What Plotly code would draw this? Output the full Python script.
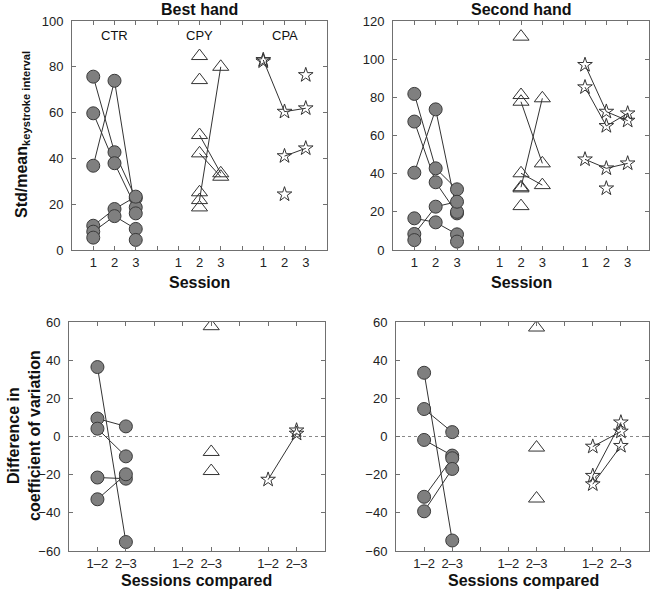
import plotly.graph_objects as go

# ---------------- data ----------------
session_labels = ["1", "2", "3"]
compare_labels = ["1\u20132", "2\u20133"]
groups = ["CTR", "CPY", "CPA"]

# Std/mean (keystroke interval), one list per participant: sessions 1,2,3
best_CTR = [[75.7, 42.7, 22.6], [59.7, 37.9, 18.6], [36.8, 73.9, 16.0],
            [10.6, 17.9, 23.3], [8.0, 14.8, 9.2], [5.4, None, 4.4]]
best_CPY = [[None, 50.2, 33.5], [None, 42.2, 32.0], [None, 21.8, 80.0],
            [None, 84.7, None], [None, 74.2, None], [None, 25.2, None], [None, 18.6, None]]
best_CPA = [[83.0, 60.4, 61.9], [82.4, None, None], [None, 41.0, 44.4],
            [None, None, 76.4], [None, 24.3, None]]

second_CTR = [[81.8, 42.8, 31.8], [67.3, 35.5, 19.2], [40.5, 73.7, 20.0],
              [8.4, 22.7, 25.3], [16.6, 14.5, 8.2], [5.2, None, 4.4]]
second_CPY = [[None, 77.7, 45.4], [None, 32.9, 79.5], [None, 40.2, 34.0],
              [None, 111.8, None], [None, 81.2, None], [None, 23.0, None], [None, 32.3, None]]
second_CPA = [[97.0, 72.5, 67.8], [85.3, 65.0, 71.6], [47.5, 42.8, 45.4], [None, 32.3, None]]

# Difference in coefficient of variation: comparisons 1-2, 2-3
dbest_CTR = [[36.4, -55.3], [9.4, 5.3], [4.1, -10.4], [-21.5, -22.1], [-32.9, -19.8]]
dbest_CPY = [[None, 57.8], [None, -8.1], [None, -18.1]]
dbest_CPA = [[-22.6, 1.5], [None, 3.2]]

dsecond_CTR = [[33.4, -54.5], [14.4, 2.3], [-1.8, -10.0], [-31.6, -11.4], [-39.2, -17.0]]
dsecond_CPY = [[None, 57.1], [None, -5.8], [None, -32.5]]
dsecond_CPA = [[-5.3, 2.6], [-20.6, 7.4], [-25.0, -4.9]]

# ---------------- styles ----------------
W, H = 652, 592
FONT = "Liberation Sans, Arial, sans-serif"
LINE_C = "#333333"
FRAME_C = "#707070"
styles = {
    "CTR": dict(symbol="circle", size=13, color="#7f7f7f", line=dict(color="#3a3a3a", width=1)),
    "CPY": dict(symbol="triangle-up-open", size=14, color="#333333", line=dict(color="#333333", width=1)),
    "CPA": dict(symbol="star-open", size=11, color="#333333", line=dict(color="#333333", width=1)),
}

fig = go.Figure()
line_traces, marker_traces = [], []


def add_group(subjects, offset, group, xa, ya):
    for subj in subjects:
        xs = [offset + i + 1 for i in range(len(subj))]
        line_traces.append(go.Scatter(x=xs, y=subj, mode="lines", xaxis=xa, yaxis=ya,
                                      line=dict(color=LINE_C, width=1), hoverinfo="skip",
                                      showlegend=False, connectgaps=False))
        marker_traces.append(go.Scatter(x=xs, y=subj, mode="markers", xaxis=xa, yaxis=ya,
                                        marker=styles[group], showlegend=False))


top_offsets = {"CTR": 0, "CPY": 4, "CPA": 8}
bot_offsets = {"CTR": 0, "CPY": 3, "CPA": 6}
for g, d in zip(groups, [best_CTR, best_CPY, best_CPA]):
    add_group(d, top_offsets[g], g, "x", "y")
for g, d in zip(groups, [second_CTR, second_CPY, second_CPA]):
    add_group(d, top_offsets[g], g, "x2", "y2")
for g, d in zip(groups, [dbest_CTR, dbest_CPY, dbest_CPA]):
    add_group(d, bot_offsets[g], g, "x3", "y3")
for g, d in zip(groups, [dsecond_CTR, dsecond_CPY, dsecond_CPA]):
    add_group(d, bot_offsets[g], g, "x4", "y4")

for t in line_traces + marker_traces:
    fig.add_trace(t)

# tick definitions (labelled ticks; unlabelled ones come from minor ticks)
top_tickvals, top_ticktext = [], []
for g in groups:
    for i, lab in enumerate(session_labels):
        top_tickvals.append(top_offsets[g] + i + 1)
        top_ticktext.append(lab)
bot_tickvals, bot_ticktext = [], []
for g in groups:
    for i, lab in enumerate(compare_labels):
        bot_tickvals.append(bot_offsets[g] + i + 1)
        bot_ticktext.append(lab)

axis_common = dict(showline=True, linecolor=FRAME_C, linewidth=1, mirror="allticks",
                   ticks="inside", ticklen=4, tickcolor=FRAME_C, showgrid=False, zeroline=False,
                   tickfont=dict(family=FONT, size=13, color="#222222"), automargin=False)
minor_x = dict(dtick=1, tick0=0, ticks="inside", ticklen=4, tickcolor=FRAME_C, showgrid=False)


def px_x(a, b):
    return [a / W, b / W]


def px_y(top, bottom):
    return [1 - bottom / H, 1 - top / H]


def pos_x(a):
    return a / W


def pos_y(a):
    return 1 - a / H


fig.update_layout(
    xaxis=dict(domain=px_x(72, 327), range=[0, 12], tickvals=top_tickvals, ticktext=top_ticktext,
               anchor="y", ticklabelstandoff=0, minor=minor_x, **axis_common),
    yaxis=dict(domain=px_y(21, 250), range=[0, 100], dtick=20, anchor="x",
               ticklabelstandoff=5, **axis_common),
    xaxis2=dict(domain=px_x(393, 649), range=[0, 12], tickvals=top_tickvals, ticktext=top_ticktext,
                anchor="y2", ticklabelstandoff=0, minor=minor_x, **axis_common),
    yaxis2=dict(domain=px_y(21, 250), range=[0, 120], dtick=20, anchor="x2",
                ticklabelstandoff=5, **axis_common),
    xaxis3=dict(domain=px_x(69, 325), range=[0, 9], tickvals=bot_tickvals, ticktext=bot_ticktext,
                anchor="y3", ticklabelstandoff=0, minor=minor_x, **axis_common),
    yaxis3=dict(domain=px_y(322, 551), range=[-60, 60], dtick=20, anchor="x3",
                ticklabelstandoff=5, **axis_common),
    xaxis4=dict(domain=px_x(396, 649), range=[0, 9], tickvals=bot_tickvals, ticktext=bot_ticktext,
                anchor="y4", ticklabelstandoff=0, minor=minor_x, **axis_common),
    yaxis4=dict(domain=px_y(322, 551), range=[-60, 60], dtick=20, anchor="x4",
                ticklabelstandoff=5, **axis_common),
    width=W, height=H, margin=dict(l=0, r=0, t=0, b=0),
    paper_bgcolor="white", plot_bgcolor="white",
    font=dict(family=FONT, color="#111111"),
    showlegend=False,
)

# dotted zero lines
for xa, ya in [("x3", "y3"), ("x4", "y4")]:
    fig.add_shape(type="line", xref=f"{xa} domain", yref=ya, x0=0, x1=1, y0=0, y1=0,
                  line=dict(color="#888888", width=1, dash="dot"), layer="below")

ann = []
bold16 = dict(family=FONT, size=16, color="#111111")
# panel titles
ann.append(dict(text="<b>Best hand</b>", x=pos_x(199.5), y=pos_y(9), xref="paper", yref="paper",
                showarrow=False, font=bold16, xanchor="center", yanchor="middle"))
ann.append(dict(text="<b>Second hand</b>", x=pos_x(521), y=pos_y(9), xref="paper", yref="paper",
                showarrow=False, font=bold16, xanchor="center", yanchor="middle"))
# x titles
for cx in [199.5, 521]:
    ann.append(dict(text="<b>Session</b>", x=pos_x(cx), y=pos_y(282), xref="paper", yref="paper",
                    showarrow=False, font=bold16, xanchor="center", yanchor="middle"))
for cx in [197, 523]:
    ann.append(dict(text="<b>Sessions compared</b>", x=pos_x(cx), y=pos_y(580), xref="paper",
                    yref="paper", showarrow=False, font=bold16, xanchor="center", yanchor="middle"))
# y titles
ann.append(dict(text="<b>Std/mean<sub>keystroke interval</sub></b>", x=pos_x(22), y=pos_y(135),
                xref="paper", yref="paper", showarrow=False, font=bold16, textangle=-90,
                xanchor="center", yanchor="middle"))
ann.append(dict(text="<b>Difference in<br>coefficient of variation</b>", x=pos_x(24), y=pos_y(436),
                xref="paper", yref="paper", showarrow=False, font=bold16, textangle=-90,
                xanchor="center", yanchor="middle"))
# group labels
for g in groups:
    ann.append(dict(text=g, x=top_offsets[g] + 2, y=93.5, xref="x", yref="y", showarrow=False,
                    font=dict(family=FONT, size=13, color="#111111"), xanchor="center",
                    yanchor="middle"))

fig.update_layout(annotations=ann)
fig.write_html("out.html", config={"displayModeBar": False},
               post_script="document.body.style.margin='0';")
